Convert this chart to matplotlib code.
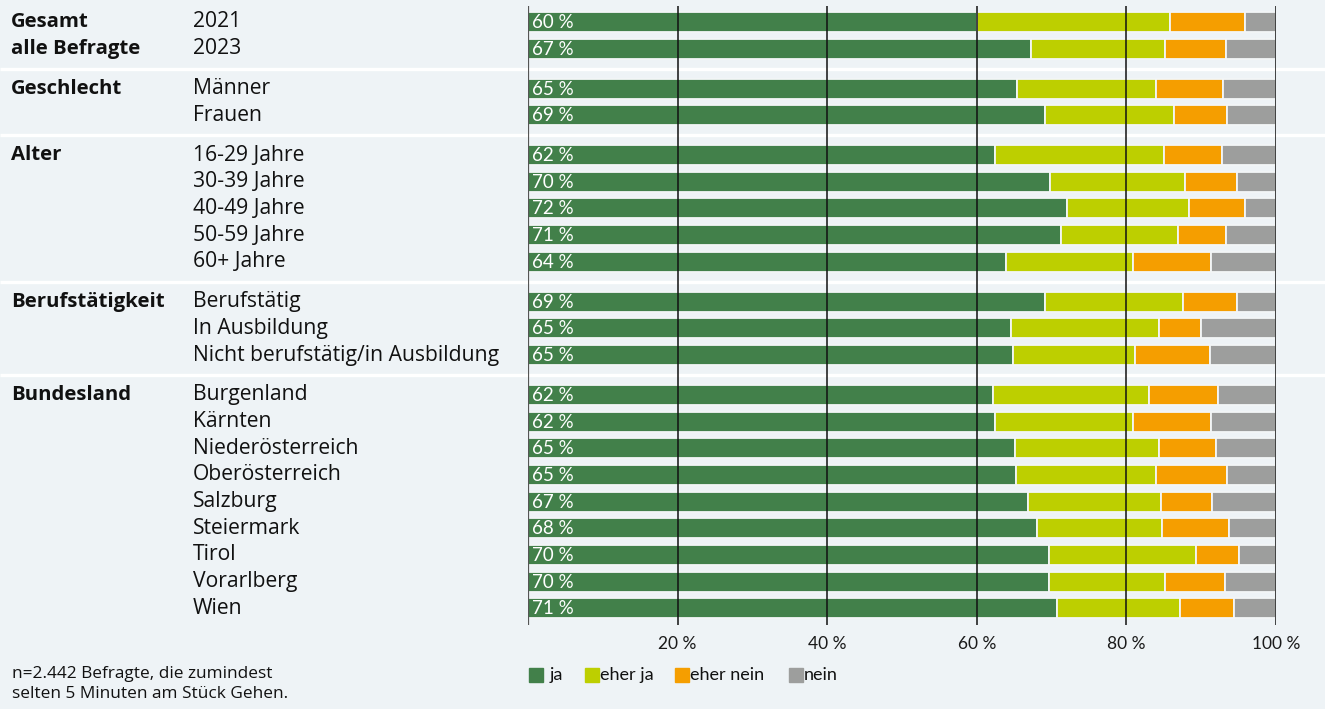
import numpy as np
import matplotlib.pyplot as plt
from matplotlib.patches import Rectangle
from matplotlib.transforms import blended_transform_factory

plt.rcParams['font.family'] = ['Lato', 'DejaVu Sans']
label_font = ['Open Sans', 'DejaVu Sans']

# Groups and rows
groups = ['Gesamt\nalle Befragte', 'Geschlecht', 'Alter', 'Berufstätigkeit', 'Bundesland']
group_rows = [
    ['2021', '2023'],
    ['Männer', 'Frauen'],
    ['16-29 Jahre', '30-39 Jahre', '40-49 Jahre', '50-59 Jahre', '60+ Jahre'],
    ['Berufstätig', 'In Ausbildung', 'Nicht berufstätig/in Ausbildung'],
    ['Burgenland', 'Kärnten', 'Niederösterreich', 'Oberösterreich', 'Salzburg',
     'Steiermark', 'Tirol', 'Vorarlberg', 'Wien'],
]

# Shares in percent, one entry per row (top to bottom)
ja = [60.0, 67.3, 65.4, 69.1, 62.4, 69.8, 72.1, 71.2, 63.9, 69.1, 64.6, 64.9,
      62.2, 62.4, 65.1, 65.3, 66.8, 68.1, 69.7, 69.7, 70.7]
eher_ja = [25.8, 17.9, 18.5, 17.2, 22.6, 18.0, 16.3, 15.7, 17.0, 18.4, 19.7, 16.3,
           20.8, 18.5, 19.2, 18.7, 17.8, 16.7, 19.6, 15.5, 16.4]
eher_nein = [10.0, 8.1, 9.0, 7.2, 7.8, 7.0, 7.4, 6.4, 10.4, 7.3, 5.7, 10.0,
             9.2, 10.4, 7.7, 9.5, 6.9, 8.9, 5.7, 8.0, 7.3]
nein = [4.2, 6.7, 7.1, 6.5, 7.2, 5.2, 4.2, 6.7, 8.7, 5.2, 10.0, 8.8,
        7.8, 8.7, 8.0, 6.5, 8.5, 6.3, 5.0, 6.8, 5.6]

series = ['ja', 'eher ja', 'eher nein', 'nein']
colors = ['#42804a', '#bdcf00', '#f59e00', '#9d9e9d']
ticks = [20, 40, 60, 80, 100]

bg = '#eef3f6'
W, H = 1325, 709
fig = plt.figure(figsize=(W / 100, H / 100), dpi=100, facecolor=bg)

# axes in pixel-like y units, x in percent
top, bottom = 6, 625
ax = fig.add_axes([528 / W, (H - bottom) / H, 748 / W, (bottom - top) / H])
ax.patch.set_visible(False)
ax.set_xlim(0, 100)
ax.set_ylim(bottom, top)

# row centres
pitch, gap, y0 = 26.65, 13.3, 22
ys, group_y = [], []
k = 0
for g, rows in enumerate(group_rows):
    group_y.append(y0 + k * pitch + g * gap)
    for _ in rows:
        ys.append(y0 + k * pitch + g * gap)
        k += 1
ys = np.array(ys)

data = np.array([ja, eher_ja, eher_nein, nein])
left = np.zeros(len(ys))
for vals, c in zip(data, colors):
    ax.barh(ys, vals, left=left, height=20, color=c, edgecolor='#f3f6f7',
            linewidth=1.3, zorder=2)
    left += vals

for y, v in zip(ys, ja):
    ax.text(0.6, y + 0.5, f'{v:.0f} %', color='white', fontsize=13.5,
            va='center', ha='left', zorder=4)

# grid lines over the bars
for t in ticks:
    ax.axvline(t, color='#111111', lw=1.1, zorder=3)
ax.axvline(0, color='#555555', lw=1.6, zorder=3)

for s in ax.spines.values():
    s.set_visible(False)
ax.set_yticks([])
ax.set_xticks(ticks)
ax.set_xticklabels([f'{t} %' for t in ticks], fontsize=12.5, color='#1a1a1a')
ax.tick_params(axis='x', length=0, pad=8)

# labels on the left and group separators
tr = blended_transform_factory(fig.transFigure, ax.transData)
for y, name in zip(ys, [r for rows in group_rows for r in rows]):
    ax.text(193 / W, y, name, transform=tr, fontsize=15.2, va='center',
            ha='left', color='#111111', clip_on=False, family=label_font)
for g, name in enumerate(groups):
    lines = name.split('\n')
    for j, line in enumerate(lines):
        ax.text(11 / W, group_y[g] + j * pitch, line, transform=tr,
                fontsize=14.7, fontweight='bold', va='center', ha='left',
                color='#111111', clip_on=False, family=label_font)

k = 0
for g, rows in enumerate(group_rows[:-1]):
    k += len(rows)
    y_sep = (ys[k - 1] + ys[k]) / 2
    ax.plot([0, 1], [y_sep, y_sep], transform=tr, color='white', lw=2.4,
            zorder=1, clip_on=False, solid_capstyle='butt')

# legend
legend_x = [529, 585, 675, 789]
for x, c, lab in zip(legend_x, colors, series):
    fig.patches.append(Rectangle((x / W, (H - 682) / H), 14 / W, 14 / H,
                                 transform=fig.transFigure, color=c))
    tx = x + 21 if lab == 'ja' else x + 15
    fig.text(tx / W, (H - 675) / H, lab, fontsize=13, va='center', ha='left',
             color='#111111')

fig.text(12 / W, (H - 684) / H,
         'n=2.442 Befragte, die zumindest\nselten 5 Minuten am Stück Gehen.',
         fontsize=12.4, va='center', ha='left', color='#111111',
         linespacing=1.25, family=label_font)

fig.savefig('out.png', dpi=100, facecolor=bg)
